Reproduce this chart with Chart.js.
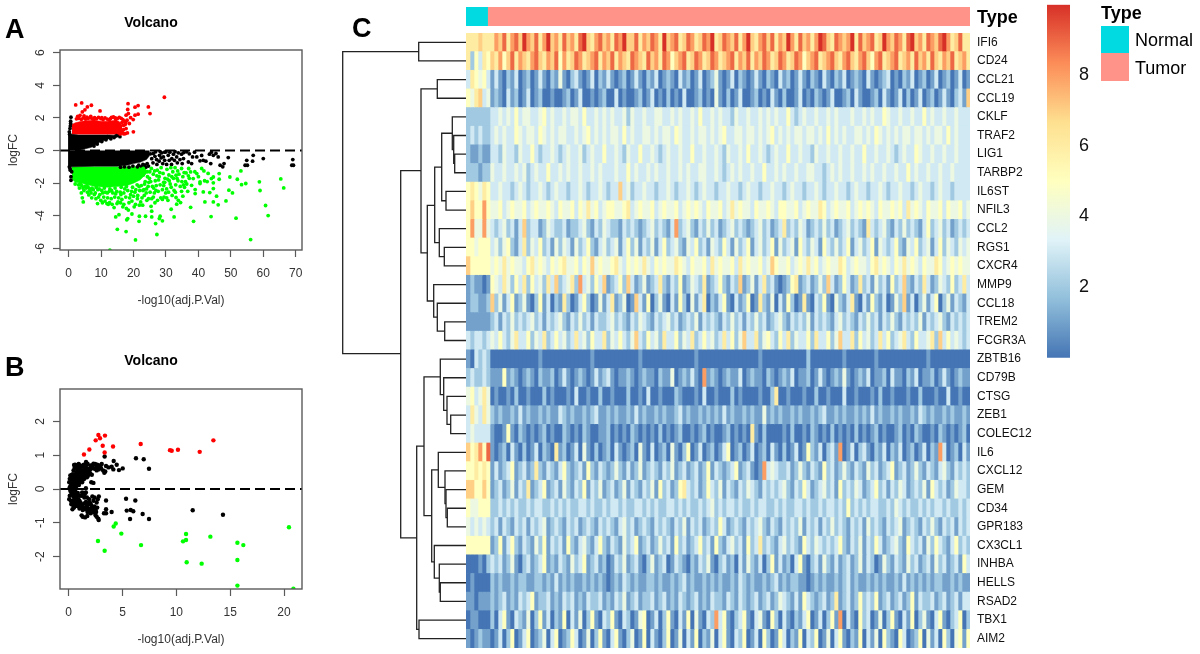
<!DOCTYPE html>
<html>
<head>
<meta charset="utf-8">
<title>Volcano and heatmap</title>
<script src="https://cdn.jsdelivr.net/npm/chart.js@4/dist/chart.umd.min.js"></script>
<style>
    html, body { margin: 0; padding: 0; background: #fff; }
    #page { position: relative; width: 1200px; height: 654px; overflow: hidden; font-family: "Liberation Sans", Arial, sans-serif; color: #000; }
    #page canvas { position: absolute; }
    .panel { position: absolute; font-size: 27px; font-weight: bold; line-height: 30px; }
    .note { position: absolute; font-size: 18px; line-height: 20px; white-space: nowrap; }
    .swatch { position: absolute; left: 1101px; width: 28px; height: 27.7px; }
</style>
</head>
<body>
<div id="page">
    <canvas id="volcano-a" style="left:0;top:0"></canvas>
    <canvas id="volcano-b" style="left:0;top:339px"></canvas>
    <canvas id="tree" style="left:340px;top:33px"></canvas>
    <canvas id="heatmap" style="left:466px;top:33px"></canvas>
    <canvas id="annotation" style="left:466px;top:7px"></canvas>
    <canvas id="colorbar" style="left:1047px;top:0"></canvas>
    <div class="panel" style="left:5px;top:14px">A</div>
    <div class="panel" style="left:5px;top:352px">B</div>
    <div class="panel" style="left:352px;top:13px">C</div>
    <div class="note" style="left:977px;top:7px;font-weight:bold">Type</div>
    <div class="note" style="left:1101px;top:3px;font-weight:bold">Type</div>
    <div class="swatch" style="top:25.7px;background:#00dae0"></div>
    <div class="swatch" style="top:53.4px;background:#ff9289"></div>
    <div class="note" style="left:1135px;top:30px">Normal</div>
    <div class="note" style="left:1135px;top:58px">Tumor</div>
</div>
<script>
Chart.defaults.font.family = '"Liberation Sans", Arial, sans-serif';
Chart.defaults.animation = false;

// Panel A
const aTicksX = [0, 10, 20, 30, 40, 50, 60, 70];
const aTicksY = [-6, -4, -2, 0, 2, 4, 6];

const aBlackEdgeX = [-0.2, 1, 3, 7, 9.7, 12.7, 14.8, 15.6];
const aBlackEdgeTop = [1.05, 1, 0.95, 0.95, 0.95, 0.95, 0.92, 0.86];
const aBlackEdgeBottom = [0, 0, 0, 0.2, 0.53, 0.74, 0.84, 0.86];
const aBlackLowX = [-0.2, 1, 8, 15, 18, 20, 22, 24, 25];
const aBlackLowBottom = [-1.05, -1, -0.96, -0.96, -0.9, -0.8, -0.72, -0.55, -0.3];

const aRedEdgeX = [1, 2, 4, 6, 8, 10, 12, 14, 15.5, 16.5];
const aRedEdgeTop = [1.6, 1.7, 1.8, 1.85, 1.85, 1.8, 1.8, 1.85, 1.8, 1.55];

const aGreenEdgeX = [1, 2, 5, 8, 12, 15, 18, 20, 22, 24];
const aGreenEdgeBottom = [-1.75, -1.95, -2.05, -2.2, -2.25, -2.2, -2.15, -2, -1.8, -1.4];

const aRedPoints = [
    [29.5, 3.27], [2.16, 2.8], [4, 2.92], [7, 2.78], [5.75, 2.68], [5, 2.5], [4.2, 2.37], [9.66, 2.43], [2.77, 2.1], [3.5, 2.16],
    [4.73, 2.13], [6.8, 2.1], [18.3, 2.88], [21.4, 2.76], [20.45, 2.66], [24.56, 2.68], [25.08, 2.27], [21.4, 2.23], [20.45, 2.17], [18.2, 2.52],
    [18.4, 2.27], [17.7, 2.17], [19.1, 2.02], [19.9, 1.9], [18.7, 1.66], [17.7, 1.35], [18.1, 1.08], [17.5, 1.04], [19.94, 1.15], [16.9, 1.55],
    [2.4, 1.95], [3.1, 1.98], [3.9, 1.92], [4.6, 2], [5.2, 1.93], [6, 1.98], [6.7, 2.02], [7.3, 1.94], [8, 2.02], [8.6, 1.95],
    [9.2, 2.04], [9.9, 1.96], [10.6, 1.9], [11.2, 2], [11.9, 1.93], [12.5, 1.88], [13.2, 2.04], [13.8, 2.06], [14.4, 2], [15, 1.96],
    [15.6, 2.04], [16.2, 1.98], [16.7, 1.9], [17.2, 1.8], [17.6, 1.7], [16.4, 1.72], [15.9, 1.4], [16.9, 1.28], [17.4, 1.6], [18, 1.86],
    [14.5, 1.9], [12.9, 1.96], [10.2, 2.02], [7.8, 1.9], [5.6, 2.05], [16.2, 1.2], [15.4, 1.1], [16.6, 1.1], [17, 1.02], [15.9, 1.02]
];

const aGreenPoints = [
    [65.4, -1.74], [66.3, -2.29], [53.1, -1.25], [49.7, -1.62], [52, -1.76], [54.6, -2.02], [53.3, -2.09], [58.8, -1.92], [59, -2.45], [49.4, -2.43],
    [50.5, -2.6], [48.5, -3.09], [60.7, -3.37], [61.5, -3.99], [51.6, -4.15], [56.1, -5.46], [43.9, -4.05], [38.5, -4.34], [20.6, -5.48], [27.2, -5.15],
    [17.7, -4.97], [15, -4.83], [12.7, -6.11], [26.8, -4.48], [28.9, -4.31], [28.2, -4.03], [27.96, -4.17], [32.5, -4.07], [25.6, -4.07], [23.7, -4.03],
    [21.8, -4.03], [21.7, -4.34], [19.5, -3.89], [18.2, -4.17], [17.9, -4.25], [14.5, -4.07], [15.5, -3.93], [25.6, -3.72], [25.4, -3.42], [31.6, -3.6],
    [33.3, -3.29], [33.8, -3.05], [34.5, -3.19], [33.1, -2.88], [35.2, -2.8], [37.6, -3.48], [39, -2.64], [42, -3.15], [44.6, -3.15], [46.1, -3.33],
    [45.6, -2.8], [43.5, -2.58], [44.6, -2.33], [41.5, -2.54], [40.5, -1.92], [39.5, -1.41], [41, -1.1], [41.7, -1.25], [44.6, -1.62], [44, -1.72],
    [46.4, -1.41], [46.4, -1.76], [44.6, -1.98], [40.5, -2.02], [39, -2.39], [37.9, -2.13], [38.4, -1.72], [37.6, -1.31], [36.2, -1.37], [34.8, -1.1],
    [33.1, -1.51], [3.9, -2.6], [4.2, -2.9], [4.5, -3.15], [8.9, -3.25], [10.4, -3.2], [11.8, -3.25], [12.6, -3.2], [13.4, -3.3], [14, -3.5],
    [15.2, -3.15], [16, -3.2], [17, -3.3], [17.8, -3.55], [18.6, -3.2], [19.5, -3.1], [20.6, -3.3], [21.8, -3.35], [22.8, -3.35], [24.6, -2.95],
    [25.6, -2.95], [27.4, -3.05], [28.4, -2.9], [29.4, -2.85], [30.2, -2.9], [5.4, -2.3], [5.8, -2.55], [6.5, -2.35], [6.9, -2.6], [7.6, -2.4],
    [8.2, -2.6], [9, -2.4], [9.6, -2.7], [10.2, -2.45], [10.8, -2.85], [11.3, -2.55], [12, -2.9], [12.5, -2.5], [13.1, -2.95], [13.6, -2.6],
    [14.2, -2.85], [14.8, -2.5], [15.4, -2.9], [15.9, -2.55], [16.4, -3], [17, -2.6], [17.6, -2.85], [18.2, -2.45], [18.8, -2.9], [19.4, -2.5],
    [20, -2.8], [20.7, -2.4], [21.3, -2.75], [21.9, -2.45], [22.6, -2.9], [23.2, -2.4], [23.9, -2.6], [24.5, -2.2], [25.1, -2.55], [25.8, -2.2],
    [26.4, -2.6], [27, -2.15], [27.6, -2.5], [28.2, -2.1], [28.9, -2.4], [29.6, -1.95], [30.2, -2.35], [31, -1.85], [31.6, -2.25], [32.3, -1.7],
    [33, -2.1], [33.7, -1.85], [34.4, -2.2], [35.2, -1.6], [36, -1.9], [22.4, -1.15], [23, -1.5], [23.6, -1.9], [24.2, -1.3], [24.9, -1.7],
    [25.5, -1.1], [26.1, -1.45], [26.7, -1.85], [27.3, -1.2], [27.9, -1.6], [28.5, -1.05], [29.1, -1.4], [29.7, -1.7], [30.3, -1.15], [30.9, -1.5],
    [31.5, -1.05], [32.1, -1.3], [32.8, -1.05], [34, -1.45], [35.6, -1.35], [2, -2.05], [3, -2.1], [4, -2.15], [5, -2.2], [6, -2.25],
    [7.2, -2.3], [8.5, -2.25], [9.4, -2.35], [11, -2.3], [12.7, -2.35], [14.3, -2.3], [16.2, -2.25], [17.8, -2.2], [19.7, -2.25], [21.1, -2.1],
    [22.4, -2.15], [23.4, -2.05], [24.7, -1.95], [26.9, -2.45], [29.9, -2.6], [30.8, -2.55], [32.5, -2.45], [36.7, -2.5], [37, -1.1], [41.9, -1.85],
    [3.3, -2.3], [4.7, -2.45], [6.2, -2.72], [7.1, -2.9], [8.4, -2.95], [9.9, -3.05], [11.2, -3.1], [12.2, -3.3], [14.9, -3.25], [16.7, -3.45],
    [18.4, -3.65], [20.2, -3.45], [21.2, -2.95], [22.2, -3.15], [23.3, -2.75], [24.1, -3.05], [26.1, -2.85], [26.6, -3.2], [28.9, -3], [30.6, -3.05],
    [31.9, -2.75], [32.9, -2.55], [34.8, -2.5], [35.7, -2.25], [36.4, -2.05], [37.2, -1.7], [34.9, -1.9], [33.6, -1.25], [31.3, -2.05], [29.3, -2.15],
    [27.7, -1.8], [26.2, -2.3], [25.3, -1.9], [24, -2.35], [22.9, -2.45], [21.7, -2.2], [20.4, -2.55], [19.1, -2.7], [17.3, -2.35], [16.1, -2.7],
    [14.5, -2.65], [13.2, -2.45], [11.9, -2.6], [10.5, -2.6], [9.2, -2.85], [7.9, -2.7], [6.6, -2.45], [5.6, -2.15], [4.4, -2.3], [3.6, -2.05],
    [23, -1.1], [25, -1.3], [28.1, -1.35], [29.3, -1.95], [30.5, -1.75], [31.8, -1.6], [33.4, -1.7], [24.3, -1.6], [26.5, -1.25], [27.2, -1.55],
    [35.4, -2.1], [36.9, -1.55], [38.9, -1.3], [40, -1.6], [42.7, -1.9], [43, -1.4]
];

const aBlackPoints = [
    [0.7, 2.05], [0.6, 1.66], [0.4, 1.35], [0.2, 1.15], [0.6, 1.8], [0.5, 1.5], [0.7, -1.6], [0.7, -1.82], [0.92, -1.3], [0.4, -1.1],
    [0.3, 1], [0.2, -1], [0.5, -1.2], [26.1, -0.18], [27.1, -0.55], [28, -0.29], [28.7, -0.14], [29.2, -0.39], [30, -0.08], [30.7, -0.29],
    [31.8, -0.49], [32.3, -0.22], [33.3, -0.39], [33.8, -0.14], [34.8, -0.22], [35.4, -0.49], [36.4, -0.08], [36.9, -0.7], [37.9, -0.8], [38.2, -0.39],
    [39.5, -0.39], [40.5, -0.63], [41.5, -0.6], [42.3, -0.65], [43.4, -0.22], [43.8, -0.8], [44.6, -0.29], [45.4, -0.18], [46.1, -0.39], [46.7, -0.9],
    [47.5, -1], [47.9, -0.8], [49.2, -0.43], [54.4, -0.9], [54.9, -0.6], [55.1, -0.9], [56.7, -0.65], [56.9, -0.29], [60, -0.49], [69.1, -0.55],
    [68.8, -0.9], [69.3, -0.9], [25.2, -0.2], [25.6, -0.5], [26, -0.75], [26.6, -0.35], [27.2, -0.85], [27.9, -0.65], [28.5, -0.45], [29, -0.8],
    [29.6, -0.6], [30.2, -0.85], [31, -0.6], [31.7, -0.85], [32.6, -0.6], [33.5, -0.75], [34.3, -0.55], [35, -0.8], [24.2, -0.8], [23.4, -0.9],
    [22.5, -0.98], [21.2, -1], [19.8, -0.95], [18.6, -1.02], [17.2, -1], [16, -1.02], [24.6, -0.95], [23.8, -1.02], [22.9, -0.85], [21.6, -0.9],
    [15.2, 0.95], [14.6, 0.9], [15.8, 0.85], [14, 0.8], [13, 0.72], [11.5, 0.66], [10.2, 0.55], [8.8, 0.4], [7.8, 0.28], [12, 0.85],
    [26.8, -0.08], [28.2, -0.06], [29.6, -0.1], [31.2, -0.1], [32.8, -0.07], [35.5, -0.12], [37.2, -0.2], [38.8, -0.1], [41, -0.3], [44, -0.1]
];
const aZeroX = [-2.68, 71.94];
const aZeroY = [0, 0];

// Panel B
const bTicksX = [0, 5, 10, 15, 20];
const bTicksY = [-2, -1, 0, 1, 2];
const bZeroX = [-0.806, 21.67];
const bZeroY = [0, 0];

const bRedPoints = [
    [2.76, 1.6], [3.37, 1.58], [2.91, 1.5], [2.51, 1.44], [3.16, 1.28], [1.92, 1.17], [1.42, 1.02], [3.34, 1.08], [4.12, 1.26], [6.69, 1.33],
    [9.41, 1.15], [9.57, 1.13], [10.15, 1.16], [12.17, 1.1], [13.44, 1.44]
];
const bGreenPoints = [
    [20.46, -1.13], [4.37, -1.02], [4.18, -1.11], [4.89, -1.32], [2.72, -1.54], [3.34, -1.83], [6.72, -1.66], [10.9, -1.33], [10.9, -1.51], [10.62, -1.55],
    [13.16, -1.41], [15.67, -1.59], [16.22, -1.66], [10.96, -2.17], [12.35, -2.21], [15.67, -2.1], [15.67, -2.86], [20.87, -2.95]
];
const bBlackPoints = [
    [3.34, 0.96], [6.25, 0.91], [6.97, 0.88], [7.46, 0.6], [4.18, 0.83], [4.46, 0.72], [5.02, 0.61], [4.67, 0.56], [3.99, 0.66], [4.15, 0.58],
    [3.31, 0.48], [3.47, 0.68], [3.07, 0.74], [2.6, 0.66], [2.45, 0.74], [1.61, 0.8], [1.7, 0.72], [0.5, 0.71], [0.93, 0.74], [1.2, 0.68],
    [5.33, -0.29], [6.19, -0.34], [3.47, -0.34], [5.39, -0.64], [5.76, -0.62], [6, -0.66], [6.87, -0.74], [7.46, -0.89], [5.7, -0.89], [11.52, -0.63],
    [14.33, -0.76], [3.47, -0.6], [3.28, -0.72], [3.47, -0.72], [2.79, -0.92], [2.6, -0.82], [2.38, -0.7], [3.99, -0.68], [1.2, -0.78], [1.52, -0.84],
    [1.73, -0.8], [0.1, 0.05], [0.15, -0.05], [0.2, 0.1], [0.25, -0.1], [0.2, 0], [0.3, 0.15], [0.3, -0.15], [0.35, 0.05], [0.35, -0.05],
    [0.4, 0.2], [0.4, -0.2], [0.45, 0.1], [0.45, -0.1], [0.5, 0.25], [0.5, -0.25], [0.55, 0.05], [0.5, 0.15], [0.6, 0.3], [0.6, 0.15],
    [0.6, -0.3], [0.65, 0.22], [0.65, -0.15], [0.7, 0.38], [0.7, 0.28], [0.7, -0.35], [0.75, 0.1], [0.8, 0.42], [0.8, 0.3], [0.8, -0.38],
    [0.85, 0.2], [0.9, 0.45], [0.9, 0.35], [0.9, -0.3], [1, 0.5], [1, 0.38], [1, 0.25], [1, -0.35], [1.1, 0.45], [1.1, 0.3],
    [1.1, -0.4], [1.2, 0.55], [1.2, 0.42], [1.2, 0.3], [1.2, -0.45], [1.3, 0.48], [1.3, 0.36], [1.3, -0.5], [1.4, 0.52], [1.4, 0.4],
    [1.4, -0.12], [1.5, 0.58], [1.5, 0.45], [1.5, -0.15], [1.5, -0.42], [1.6, 0.62], [1.6, 0.42], [1.6, -0.1], [1.6, -0.38], [1.7, 0.48],
    [1.7, 0.35], [1.7, -0.25], [1.8, 0.6], [1.8, 0.4], [1.8, -0.45], [1.9, 0.5], [1.9, -0.3], [2, 0.45], [2, -0.42], [2.1, 0.2],
    [2.1, -0.48], [2.2, 0.62], [2.2, -0.55], [2.3, 0.18], [2.4, 0.6], [2.5, -0.62], [2.6, 0.55], [2.7, -0.3], [2.7, 0.62], [2.8, -0.22],
    [2.8, 0.58], [0.3, -0.42], [0.35, -0.6], [0.45, -0.5], [0.3, 0.42], [0.4, 0.44], [0.55, -0.42], [0.65, -0.48], [0.75, -0.5], [0.9, -0.46],
    [0.8, 0.6], [0.7, 0.7], [0.9, 0.62], [1.1, 0.62], [1.3, 0.66], [1.6, 0.02], [2.5, 0.72], [2.2, 0.7], [3, 0.62], [2, -0.62],
    [2.3, -0.35], [2.6, -0.4], [1.3, -0.62], [1, -0.58], [1.6, -0.55], [1.85, -0.58], [2.05, -0.72], [2.75, -0.88], [2.5, -0.78], [1.3, -0.82],
    [0.05, 0.2], [0.1, -0.2], [0.05, -0.3], [0.1, 0.3], [0.15, 0.4], [0.2, -0.35], [0.25, 0.28], [0.25, -0.45], [0.3, 0.3], [0.4, 0.35],
    [0.5, 0.4], [0.5, 0.05], [0.6, 0.42], [0.6, -0.05], [0.65, 0.05], [0.7, 0.5], [0.75, 0.3], [0.8, 0.5], [0.9, 0.55], [0.95, 0.12],
    [1, 0.62], [1.05, 0.2], [1.15, 0.52], [1.25, 0.2], [1.35, 0.28], [1.45, 0.3], [1.55, 0.5], [1.65, 0.55], [1.75, 0.58], [1.85, 0.48],
    [1.95, 0.55], [2.05, 0.6], [2.15, 0.42], [0.6, -0.45], [0.5, -0.55], [0.4, -0.35], [0.7, -0.22], [0.85, -0.12], [0.85, -0.5], [1, -0.2],
    [1.1, -0.52], [1.2, -0.2], [1.25, -0.1], [1.35, -0.55], [1.45, -0.25], [1.55, -0.6], [1.7, -0.5], [1.75, -0.68], [1.9, -0.4], [2.15, -0.58],
    [2.3, -0.65], [2.4, -0.52], [2.55, -0.68], [2.65, -0.55], [2.2, -0.22], [2.4, -0.25], [0.45, 0.55], [0.55, 0.62], [0.6, 0.72], [0.9, 0.72],
    [1.05, 0.7], [1.4, 0.72], [1.75, 0.75], [2.05, 0.7], [2.3, 0.75], [2.65, 0.72], [2.9, 0.7], [3.2, 0.55], [3.4, 0.52], [3.7, 0.64]
];

// Panel C
const geneLabels = ['IFI6', 'CD24', 'CCL21', 'CCL19', 'CKLF', 'TRAF2', 'LIG1', 'TARBP2', 'IL6ST', 'NFIL3', 'CCL2', 'RGS1', 'CXCR4', 'MMP9', 'CCL18', 'TREM2', 'FCGR3A', 'ZBTB16', 'CD79B', 'CTSG', 'ZEB1', 'COLEC12', 'IL6', 'CXCL12', 'GEM', 'CD34', 'GPR183', 'CX3CL1', 'INHBA', 'HELLS', 'RSAD2', 'TBX1', 'AIM2'];
const normalColumns = [5.4];
const tumorColumns = [120.6];
const colorbarTop = [10];
const colorbarTicks = [2, 4, 6, 8];
const rampColors = ['#4575b4', '#91bfdb', '#e0f3f8', '#ffffbf', '#fee090', '#fc8d59', '#d73027'];

const IFI6 = [6,6,6,7,6,6, 6,8,7,9,6,8,9,7,10,8, 7,9,6,8,10,7,8,6,9,7, 8,6,9,10,7,6,8,9,7,8, 6,9,8,10,7,7,9,6,8,7, 9,8,6,10,7,8,9,6,7,9, 8,6,7,9,8,10,6,7,9,8, 7,9,6,8,10,7,6,8,9,7, 9,6,8,7,10,8,6,9,7,8, 6,8,10,9,7,6,9,8,7,8, 10,6,9,7,8,9,6,7,10,8, 7,9,8,6,9,10,7,8,6,9, 8,7,9,10,8,6,7,9,6,6];
const CD24 = [6,2,5,3,6,5, 7,6,8,5,7,9,6,8,7,6, 8,9,7,6,8,7,9,5,8,6, 7,9,8,6,7,8,9,6,8,7, 9,6,8,7,6,9,8,7,6,9, 7,8,6,9,8,5,7,8,9,6, 7,9,8,6,7,9,8,6,7,8, 9,6,8,7,9,6,8,7,9,8, 6,7,9,8,6,7,9,8,5,7, 8,9,6,7,8,9,7,6,8,9, 7,6,8,9,7,5,8,9,6,7, 8,9,6,7,8,6,9,7,8,6, 9,7,6,8,7,9,6,7,8,6];
const CCL21 = [3,6,5,4,5,3, 1,3,1,0,2,1,3,0,1,2, 0,1,3,1,0,2,1,4,1,0, 2,3,1,0,1,3,0,2,1,3, 1,0,1,2,0,1,3,1,0,2, 1,3,0,1,2,1,0,3,1,2, 0,1,3,0,1,2,4,1,0,1, 3,0,2,1,0,1,3,1,0,2, 1,0,3,1,2,0,1,3,1,0, 2,1,0,3,1,0,2,1,3,0, 1,2,1,0,3,1,0,1,2,3, 0,1,0,2,1,3,0,1,2,0, 1,3,0,1,2,0,1,3,0,1];
const CCL19 = [5,4,6,7,3,4, 1,2,1,0,3,1,2,0,1,3, 0,1,2,0,0,1,0,0,1,2, 0,1,3,0,0,1,0,1,2,0, 0,3,0,1,0,0,1,2,0,1, 3,0,1,0,2,0,1,0,3,0, 0,1,2,0,1,0,4,1,0,2, 0,1,3,0,0,1,2,0,1,0, 3,1,0,2,0,0,1,3,0,1, 0,2,1,0,1,3,0,0,1,2, 0,3,1,0,0,1,2,0,3,1, 0,1,3,0,2,0,1,3,0,1, 2,0,1,3,1,0,2,3,1,7];
const CKLF = [2,2,2,2,2,2, 3,3,4,3,4,3,5,3,4,4, 3,3,4,5,3,4,3,3,4,3, 4,4,3,5,3,3,4,3,4,3, 4,3,3,4,2,4,3,3,4,3, 3,4,4,3,3,4,3,4,3,3, 4,3,5,3,3,4,3,4,3,3, 2,4,3,3,4,3,3,4,3,4, 3,4,3,3,5,3,2,3,4,3, 3,4,3,3,4,3,4,3,3,3, 4,3,3,4,3,4,3,3,5,4, 3,3,4,3,3,4,3,3,5,3, 4,3,3,4,3,3,4,3,3,3];
const TRAF2 = [2,3,2,3,2,2, 3,4,3,4,3,3,5,4,3,4, 4,3,5,4,3,4,3,4,4,3, 3,4,3,4,5,3,4,3,4,3, 4,4,3,5,3,4,3,3,4,4, 3,4,3,4,4,3,5,4,3,3, 4,3,4,4,3,4,3,4,5,3, 3,4,4,3,4,4,3,4,3,4, 5,3,4,3,4,3,4,4,3,4, 4,3,4,3,5,3,4,3,4,3, 3,4,4,3,4,3,5,4,3,4, 3,4,3,4,4,3,4,4,3,4, 3,4,4,3,5,3,4,3,3,3];
const LIG1 = [2,1,1,2,1,1, 3,3,2,4,3,3,2,4,3,3, 5,3,2,3,3,4,3,2,3,4, 3,3,4,2,3,4,3,3,5,3, 3,4,3,2,4,3,3,5,3,3, 4,3,2,3,4,3,3,4,3,3, 5,3,3,4,3,3,4,3,2,4, 3,3,4,3,5,3,3,4,3,2, 3,4,3,3,5,3,3,4,3,3, 2,4,3,3,4,3,3,4,3,3, 4,3,3,5,3,3,4,3,3,4, 3,2,3,4,3,3,5,4,3,3, 4,3,3,4,3,3,4,3,3,3];
const TARBP2 = [2,2,2,1,2,2, 4,3,3,4,3,3,4,3,4,2, 3,4,3,3,5,3,3,4,3,4, 3,3,4,3,3,4,3,4,3,3, 3,4,3,3,5,3,4,3,3,4, 3,4,3,3,4,3,3,4,3,4, 3,3,4,4,3,3,4,3,2,3, 4,3,4,3,3,4,3,3,5,3, 3,4,3,4,3,3,4,3,3,4, 4,3,3,2,3,4,3,4,3,3, 4,3,3,4,3,4,3,3,4,3, 3,4,3,3,5,3,4,3,3,4, 3,3,4,3,3,4,3,3,3,3];
const IL6ST = [5,6,5,4,6,5, 3,3,4,3,3,2,3,4,3,2, 3,3,4,3,2,3,4,3,3,2, 3,3,4,3,2,3,3,4,3,2, 3,3,7,3,4,2,3,3,4,3, 3,2,3,3,4,3,2,3,3,4, 3,2,3,4,3,3,2,3,3,4, 3,3,2,3,4,3,3,2,3,3, 4,3,3,2,3,4,3,3,2,3, 3,4,3,2,3,3,4,3,3,2, 3,4,3,3,2,3,3,4,3,2, 3,3,4,3,3,2,3,4,3,3, 2,3,4,3,3,2,3,3,3,3];
const NFIL3 = [5,7,5,5,8,5, 4,4,5,3,4,5,4,4,5,3, 4,5,4,4,5,4,3,5,4,4, 5,3,5,4,6,4,5,3,4,5, 5,4,4,5,6,3,4,5,4,4, 5,3,4,5,4,4,5,3,4,5, 4,5,4,3,5,4,4,5,3,4, 6,4,5,4,4,3,5,4,4,5, 4,3,5,5,4,4,5,3,4,5, 4,4,6,5,3,4,5,4,4,5, 3,4,5,4,5,4,3,5,4,4, 5,4,5,3,6,4,5,4,3,5, 4,4,5,3,5,4,4,5,3,4];
const CCL2 = [5,8,4,4,8,4, 3,2,3,4,2,3,1,3,7,2, 3,3,1,2,4,3,2,2,3,1, 2,2,3,4,2,1,3,2,4,3, 2,2,1,3,2,3,2,1,2,3, 4,2,3,2,1,3,8,2,3,4, 2,1,3,2,4,2,3,1,2,3, 4,2,3,2,1,2,3,4,2,3, 1,2,3,6,2,3,2,4,3,1, 2,3,2,4,2,3,1,2,3,4, 2,3,2,1,6,3,2,3,4,2, 1,3,2,4,2,3,2,1,3,5, 2,3,4,2,3,1,2,3,2,3];
const RGS1 = [5,5,4,5,5,5, 3,4,2,4,5,2,1,3,6,2, 4,3,5,2,3,1,4,2,4,3, 1,4,2,3,5,2,1,3,4,2, 3,4,1,3,5,2,4,1,3,2, 4,1,3,5,2,3,4,2,1,4, 3,5,2,3,1,4,3,2,5,3, 1,4,2,3,5,1,3,4,2,3, 5,1,4,2,3,4,1,5,3,2, 4,3,1,5,3,2,4,2,3,5, 1,3,4,2,3,5,1,4,3,2, 3,5,2,1,4,3,5,2,3,4, 1,3,5,2,4,3,2,4,3,4];
const CXCR4 = [7,5,5,5,5,5, 4,5,4,6,4,5,4,4,3,5, 6,4,5,4,3,5,4,5,6,4, 4,5,3,5,4,7,4,5,4,4, 5,6,4,3,5,4,5,4,6,4, 3,5,4,5,4,4,6,5,4,3, 5,4,4,5,3,6,4,5,4,4, 5,3,6,4,5,4,4,5,3,4, 7,5,4,4,5,3,4,5,4,6, 4,5,3,4,5,4,4,6,5,3, 4,5,4,4,3,5,6,4,5,4, 3,5,4,6,4,5,4,3,5,4, 4,6,5,3,4,5,4,5,4,4];
const MMP9 = [1,2,1,1,0,1, 5,4,3,6,4,2,5,3,6,2, 5,3,4,2,6,3,7,2,3,4, 6,2,8,3,4,2,5,3,7,1, 2,3,5,2,7,3,1,2,4,1, 2,3,6,2,1,3,2,5,1,2, 4,3,2,6,1,2,3,5,2,1, 3,2,7,1,2,4,1,3,6,2, 3,1,0,1,2,5,6,1,2,3, 1,2,4,2,7,3,1,2,5,3, 1,2,6,2,3,1,4,2,3,1, 5,2,3,7,2,1,3,2,6,3, 1,2,4,3,2,5,2,3,6,3];
const CCL18 = [1,2,2,1,1,2, 7,2,4,1,3,5,1,2,4,1, 0,2,5,1,3,0,2,1,6,2, 0,1,3,5,2,0,1,4,1,3, 6,1,2,4,0,1,7,3,1,5, 0,2,4,1,0,3,1,5,2,0, 4,1,3,6,0,2,1,3,5,1, 0,3,1,2,5,0,1,6,2,1, 4,0,3,1,5,2,0,1,6,1, 0,3,2,5,1,0,4,2,1,3, 6,1,0,3,1,5,2,1,3,0, 1,4,2,7,1,3,0,2,4,1, 3,5,0,2,4,1,3,2,1,3];
const TREM2 = [1,1,1,1,1,1, 2,3,1,3,2,4,2,3,2,3, 4,2,3,1,3,2,3,4,2,1, 3,2,4,2,3,1,3,2,2,3, 4,2,3,2,1,3,2,4,3,2, 1,3,2,3,4,2,3,1,2,3, 2,4,1,3,2,3,2,1,3,2, 4,2,3,1,3,2,4,2,3,1, 2,3,4,2,1,3,2,3,2,4, 1,3,2,3,2,1,3,4,2,3, 2,1,3,2,4,2,3,1,3,2, 4,2,1,3,2,3,2,4,1,3, 2,3,4,2,1,3,2,3,2,3];
const FCGR3A = [3,2,3,3,2,3, 4,3,5,3,2,4,6,3,3,5, 2,4,3,6,2,3,5,3,4,2, 3,6,3,4,2,5,3,3,6,2, 4,3,5,3,2,4,7,3,2,5, 3,4,2,6,3,3,5,2,4,3, 6,2,3,5,3,4,2,3,6,3, 5,2,4,7,3,3,6,2,4,5, 3,2,5,3,6,2,4,3,3,5, 2,6,3,3,5,2,4,7,3,3, 6,2,5,3,4,2,3,6,3,5, 2,3,4,6,3,2,5,3,3,4, 6,2,7,3,5,3,4,3,2,3];
const ZBTB16 = [1,0,3,2,3,2, 0,0,0,0,0,0,0,0,0,0, 0,0,1,0,0,0,0,0,0,0, 0,0,0,0,0,1,0,0,0,0, 0,0,0,0,0,0,0,1,0,0, 0,0,0,0,0,0,0,0,0,0, 0,1,0,0,0,0,0,0,0,0, 0,0,0,0,0,0,0,1,0,0, 0,0,0,0,0,0,0,0,0,2, 0,0,0,0,0,0,0,0,1,0, 0,0,0,0,0,0,1,0,0,0, 0,0,0,0,0,0,0,0,0,1, 0,0,0,0,0,0,0,0,0,0];
const CD79B = [2,3,2,2,3,2, 1,1,1,5,1,2,1,0,1,2, 1,0,2,1,1,2,0,1,3,1, 0,1,2,1,0,1,3,1,2,3, 1,0,1,1,2,1,0,1,2,1, 1,0,2,1,1,4,0,1,2,1, 3,1,0,8,1,2,1,0,1,2, 1,1,3,0,1,2,1,1,0,2, 1,0,1,2,1,3,0,1,1,2, 0,1,3,1,0,1,2,1,4,1, 0,1,2,1,3,0,1,1,2,0, 3,1,1,0,2,1,3,0,1,1, 2,0,1,3,1,0,1,2,1,1];
const CTSG = [4,5,3,4,6,4, 0,1,0,0,1,0,2,0,0,1, 0,0,0,2,0,1,0,0,0,1, 0,3,0,0,1,0,0,2,0,0, 1,0,0,0,2,0,0,1,0,3, 0,0,1,0,0,0,2,1,0,0, 0,1,0,3,0,0,1,0,0,0, 2,0,1,0,0,0,0,1,0,0, 2,6,0,0,1,0,0,0,1,0, 0,2,0,0,1,0,0,0,3,0, 0,1,0,0,0,1,0,2,0,0, 1,0,0,0,1,0,0,2,0,0, 0,1,0,0,3,0,0,1,0,0];
const ZEB1 = [3,6,4,3,6,4, 2,1,2,1,1,2,1,3,1,2, 1,1,2,1,2,1,1,3,2,1, 2,1,1,2,1,2,3,1,1,2, 1,2,1,1,2,1,3,1,2,1, 1,2,1,2,1,1,2,3,1,2, 1,1,2,1,2,1,2,1,3,1, 2,1,1,2,1,2,1,1,4,1, 2,1,2,1,1,2,1,2,1,1, 2,1,2,3,1,1,2,1,2,1, 1,2,1,2,1,3,1,2,1,1, 2,1,2,1,1,2,1,3,2,1, 2,1,1,2,1,2,1,1,2,1];
const COLEC12 = [3,4,3,3,3,3, 1,0,0,1,5,1,0,2,1,0, 1,0,1,2,0,1,0,0,2,1, 0,1,0,2,1,0,0,1,1,2, 0,1,0,1,0,2,1,0,1,0, 1,0,2,0,1,0,1,2,0,0, 1,0,1,2,0,1,0,0,1,2, 0,1,0,1,0,6,1,0,2,0, 0,0,0,1,0,2,0,0,1,0, 2,1,0,1,0,2,0,1,0,1, 0,2,0,1,0,1,2,0,1,0, 0,1,2,0,1,0,2,1,0,0, 1,0,2,1,0,1,0,1,2,0];
const IL6 = [7,5,6,8,5,9, 1,0,1,2,0,3,1,0,2,0, 1,3,0,2,1,0,6,1,2,0, 1,3,0,4,1,0,2,0,1,2, 0,3,1,0,1,2,0,4,1,0, 3,0,1,2,0,4,1,0,2,5, 0,1,3,0,1,2,0,1,3,5, 0,1,2,0,1,3,0,1,2,0, 3,1,0,2,0,1,3,0,1,5, 2,1,3,0,2,3,1,8,0,1, 3,0,2,3,1,0,2,1,3,0, 2,1,3,0,1,2,0,1,3,0, 2,1,8,3,0,1,2,0,3,1];
const CXCL12 = [5,5,6,5,6,5, 1,3,1,2,3,5,1,2,3,1, 2,6,2,1,3,2,1,3,5,2, 1,2,3,1,5,2,1,3,2,1, 2,4,2,1,3,1,2,4,1,2, 3,2,1,3,2,4,1,2,3,1, 2,3,1,2,5,1,3,2,1,2, 3,5,1,2,3,1,0,1,8,3, 4,3,2,2,3,1,2,4,2,1, 3,2,1,5,2,3,1,2,4,2, 1,3,2,1,4,2,3,1,2,3, 5,1,2,3,1,2,4,2,1,3, 2,1,3,4,2,1,3,2,3,2];
const GEM = [7,7,5,5,7,5, 1,2,3,1,2,4,1,3,2,6, 1,2,3,5,1,2,3,1,4,2, 1,3,2,5,1,3,2,4,1,2, 3,1,2,4,1,3,2,1,3,2, 4,1,5,2,3,1,2,5,6,3, 2,3,1,2,5,3,2,4,1,3, 2,1,3,2,4,3,2,1,3,2, 3,2,3,4,2,1,3,2,5,3, 1,2,3,4,2,3,1,5,2,3, 2,4,3,1,2,3,5,2,3,1, 3,2,4,3,1,2,3,2,4,1, 5,3,2,3,1,2,4,3,3,2];
const CD34 = [5,4,4,5,5,5, 2,2,3,2,3,2,3,2,2,3, 2,3,3,2,2,3,2,3,2,3, 2,2,3,3,2,3,2,2,3,2, 3,3,2,3,2,2,3,3,2,3, 2,3,2,2,3,3,2,3,2,3, 2,2,3,2,3,4,2,3,2,3, 3,2,3,2,2,3,2,3,3,2, 2,3,2,3,2,2,3,3,2,3, 2,2,3,2,3,3,2,3,2,5, 2,3,2,3,2,3,3,2,2,3, 2,4,3,2,3,2,2,3,2,3, 2,3,3,2,3,2,2,3,2,3];
const GPR183 = [4,3,4,3,4,3, 2,3,1,3,2,1,3,2,3,1, 3,2,3,4,1,2,3,2,1,3, 2,3,1,2,3,2,1,3,2,3, 2,1,3,4,2,3,1,2,3,2, 1,3,2,3,2,1,3,2,4,1, 3,2,3,1,2,3,2,5,3,1, 2,3,2,1,3,2,3,4,2,1, 3,2,1,3,2,3,2,4,1,3, 2,3,1,3,2,4,2,3,2,1, 3,2,3,1,4,2,3,2,1,3, 2,3,4,1,2,3,2,1,3,2, 4,2,1,3,2,3,1,3,2,3];
const CX3CL1 = [5,5,5,5,5,5, 1,2,5,1,3,5,2,1,3,2, 1,4,2,5,1,3,2,3,1,5, 2,1,3,4,2,1,3,5,2,1, 3,2,1,4,2,3,5,1,2,3, 1,2,4,2,3,1,5,2,3,1, 2,3,5,2,3,1,5,2,1,3, 4,2,3,1,5,2,3,6,2,3, 2,1,3,4,2,3,2,1,5,3, 2,4,3,2,3,2,3,5,2,1, 3,2,4,1,3,2,5,3,1,2, 3,4,2,1,5,3,2,3,1,4, 2,5,3,2,1,3,5,2,3,2];
const INHBA = [0,0,0,1,0,2, 3,2,3,1,2,4,1,0,2,3, 1,2,3,5,1,2,1,3,2,1, 4,2,3,5,1,2,3,1,2,0, 1,3,2,4,1,2,3,1,0,2, 4,1,2,3,0,1,3,2,1,0, 2,1,3,2,4,1,0,2,3,1, 2,0,3,1,4,2,1,3,0,2, 5,1,3,1,2,0,3,5,1,0, 2,3,1,4,2,1,3,1,2,3, 1,2,4,1,3,2,0,1,4,2, 1,3,2,1,4,2,3,1,2,3, 1,4,2,3,1,2,3,1,5,3];
const HELLS = [0,1,0,0,0,0, 2,1,2,1,1,2,1,2,2,1, 1,2,2,1,2,1,3,1,2,1, 2,1,1,2,1,2,1,2,1,0, 1,2,1,3,2,1,2,1,1,2, 2,1,2,1,1,2,1,2,3,1, 2,1,1,2,1,2,1,2,1,1, 2,1,3,2,1,2,1,1,2,1, 2,3,1,2,1,2,2,1,1,0, 1,2,1,2,1,1,2,1,2,3, 1,2,1,1,2,1,2,1,2,1, 1,2,1,3,1,2,1,2,1,2, 1,2,2,1,1,2,1,2,1,1];
const RSAD2 = [1,1,0,1,1,1, 2,1,2,3,1,2,1,3,2,3, 5,1,2,2,3,1,2,1,3,2, 3,1,2,1,3,2,2,3,1,2, 1,3,2,4,1,2,3,1,2,2, 3,1,2,3,1,2,1,3,2,1, 2,3,1,2,1,3,2,2,1,3, 2,1,3,2,1,2,3,1,2,3, 1,2,4,3,2,1,3,1,5,3, 2,1,2,3,1,2,6,1,2,3, 1,2,5,2,3,2,5,1,2,3, 1,2,3,1,2,5,1,3,2,2, 3,1,2,3,1,2,3,1,3,3];
const TBX1 = [0,1,1,0,0,0, 2,0,3,5,1,0,3,2,1,4, 0,2,5,1,3,0,2,1,5,0, 3,1,4,0,2,5,1,0,3,2, 5,1,0,3,2,0,1,4,5,0, 1,3,0,2,5,1,0,3,1,5, 0,4,1,0,3,2,8,3,5,1, 0,2,3,5,1,0,3,4,1,0, 5,2,0,3,1,0,2,1,3,5, 0,1,3,0,2,5,1,8,0,3, 1,0,5,2,3,0,1,4,0,2, 5,1,0,3,1,5,0,2,4,1, 0,3,5,1,0,2,3,5,0,2];
const AIM2 = [1,0,1,2,1,1, 0,1,3,0,2,5,0,1,3,5, 0,1,2,4,0,3,5,0,1,2, 5,3,0,1,4,0,2,5,1,0, 3,5,1,0,2,4,0,1,5,0, 3,1,0,2,5,0,1,4,0,3, 1,5,0,2,1,4,0,3,5,1, 0,3,2,5,0,1,3,0,5,2, 0,1,5,3,0,2,1,5,0,3, 2,5,0,1,4,0,3,5,1,0, 2,1,5,0,3,1,4,0,5,2, 1,0,5,3,0,1,2,5,0,4, 1,3,0,5,2,0,4,5,1,5];
const heatRows = [IFI6, CD24, CCL21, CCL19, CKLF, TRAF2, LIG1, TARBP2, IL6ST, NFIL3, CCL2, RGS1, CXCR4, MMP9, CCL18, TREM2, FCGR3A, ZBTB16, CD79B, CTSG, ZEB1, COLEC12, IL6, CXCL12, GEM, CD34, GPR183, CX3CL1, INHBA, HELLS, RSAD2, TBX1, AIM2];

// [height, upper y, upper child height, lower y, lower child height]
const treeNodes = [
    [123.3, 1, 47.3, 17.2, 65.3], [47.3, 0.5, 0, 1.5, 0], [65.3, 7.39, 45, 27.09, 49.3], [45, 3, 28.7, 11.8, 38.7],
    [28.7, 2.5, 0, 3.5, 0], [38.7, 9.25, 31.3, 14.38, 32.3], [31.3, 7.2, 24.3, 11.25, 26.7], [24.3, 5.38, 13.7, 9, 20],
    [13.7, 4.5, 0, 6.25, 12.3], [12.3, 5.5, 0, 7, 11.3], [11.3, 6.5, 0, 7.5, 0], [20, 8.5, 0, 9.5, 0],
    [26.7, 10.5, 0, 12, 21.7], [21.7, 11.5, 0, 12.5, 0], [32.3, 13.5, 0, 15.25, 28.7], [28.7, 14.5, 0, 16, 21.3],
    [21.3, 15.5, 0, 16.5, 0], [49.3, 22.17, 42, 32, 47], [47, 31.5, 0, 32.5, 0], [42, 18.45, 25.7, 25.9, 34.3],
    [25.7, 17.5, 0, 19.4, 22.3], [22.3, 18.5, 0, 20.25, 19], [19, 19.5, 0, 21, 15.3], [15.3, 20.5, 0, 21.5, 0],
    [34.3, 23.44, 27.7, 28.38, 31.7], [27.7, 22.5, 0, 24.38, 21], [21, 23.5, 0, 25.25, 20], [20, 24.5, 0, 26, 18.7],
    [18.7, 25.5, 0, 26.5, 0], [31.7, 27.5, 0, 29.25, 26.7], [26.7, 28.5, 0, 30, 25.7], [25.7, 29.5, 0, 30.5, 0]
];

function toPoints(pairs) {
    return pairs.map(p => ({ x: p[0], y: p[1] }));
}

function zipXY(xs, ys) {
    return xs.map((x, i) => ({ x: x, y: ys[i] }));
}

function hexToRgb(hex) {
    return [1, 3, 5].map(i => parseInt(hex.slice(i, i + 2), 16));
}

function heatColor(value) {
    const pos = Math.min(value, 10) / 10 * (rampColors.length - 1);
    const low = Math.floor(pos);
    const high = Math.min(low + 1, rampColors.length - 1);
    const a = hexToRgb(rampColors[low]);
    const b = hexToRgb(rampColors[high]);
    const t = pos - low;
    return `rgb(${a.map((c, i) => Math.round(c + (b[i] - c) * t)).join(',')})`;
}

// box around the plot, as base R draws it
const boxPlugin = {
    id: 'plotBox',
    afterDatasetsDraw(chart) {
        const { ctx, chartArea: a } = chart;
        ctx.save();
        ctx.strokeStyle = '#5a5a5a';
        ctx.lineWidth = 1.4;
        ctx.strokeRect(a.left, a.top, a.right - a.left, a.bottom - a.top);
        ctx.restore();
    }
};

function sizeCanvas(id, width, height) {
    const canvas = document.getElementById(id);
    canvas.width = width;
    canvas.height = height;
    canvas.style.width = width + 'px';
    canvas.style.height = height + 'px';
    return canvas;
}

function volcanoOptions(xRange, yRange, xTicks, yTicks, height, topPad) {
    return {
        responsive: false,
        layout: { autoPadding: false, padding: { right: 60 } },
        plugins: {
            legend: { display: false },
            tooltip: { enabled: false },
            title: {
                display: true,
                text: 'Volcano',
                color: '#000',
                font: { size: 14, weight: 'bold' },
                padding: { top: topPad, bottom: 50 - topPad - 16.8 }
            }
        },
        scales: {
            x: {
                type: 'linear',
                min: xRange[0],
                max: xRange[1],
                afterBuildTicks: s => { s.ticks = xTicks.map(v => ({ value: v })); },
                afterFit: s => { s.height = height; },
                grid: { drawOnChartArea: false, tickLength: 7, tickColor: '#5a5a5a', tickWidth: 1.2 },
                border: { display: false },
                ticks: { color: '#333', font: { size: 12 }, padding: 9, maxRotation: 0, autoSkip: false },
                title: { display: true, text: '-log10(adj.P.Val)', color: '#333', font: { size: 12 }, padding: 0 }
            },
            y: {
                type: 'linear',
                min: yRange[0],
                max: yRange[1],
                afterBuildTicks: s => { s.ticks = yTicks.map(v => ({ value: v })); },
                afterFit: s => { s.width = 60; },
                grid: { drawOnChartArea: false, tickLength: 7, tickColor: '#5a5a5a', tickWidth: 1.2 },
                border: { display: false },
                ticks: { color: '#333', font: { size: 12 }, padding: 7, minRotation: 90, maxRotation: 90, crossAlign: 'center', autoSkip: false },
                title: { display: true, text: 'logFC', color: '#333', font: { size: 12 }, padding: { top: 6, bottom: 0 } }
            }
        }
    };
}

function dots(pairs, color, radius) {
    return { data: toPoints(pairs), backgroundColor: color, borderWidth: 0, pointRadius: radius, order: 2 };
}

function zeroLine(xs, ys) {
    return { data: zipXY(xs, ys), showLine: true, borderColor: '#000', borderWidth: 2, borderDash: [10, 5], pointRadius: 0, order: 0 };
}

function band(points, fill, color) {
    return { data: points, showLine: true, fill: fill, backgroundColor: color, borderColor: color, borderWidth: 0.5, pointRadius: 0, order: 5 };
}

new Chart(sizeCanvas('volcano-a', 362, 308), {
    type: 'scatter',
    data: {
        datasets: [
            zeroLine(aZeroX, aZeroY),
            dots(aRedPoints, '#ff0000', 1.9),
            dots(aGreenPoints, '#00ff00', 1.9),
            dots(aBlackPoints, '#000', 1.9),
            band(zipXY(aBlackEdgeX, aBlackEdgeTop), '+1', '#000'),
            band(zipXY(aBlackEdgeX, aBlackEdgeBottom), false, '#000'),
            band(zipXY(aBlackLowX, aBlackLowBottom), { value: 0 }, '#000'),
            band(zipXY(aRedEdgeX, aRedEdgeTop), { value: 0.98 }, '#ff0000'),
            band(zipXY(aGreenEdgeX, aGreenEdgeBottom), { value: -0.98 }, '#00ff00')
        ]
    },
    options: volcanoOptions([-2.68, 71.94], [-6.1, 6.17], aTicksX, aTicksY, 58, 15),
    plugins: [boxPlugin]
});

new Chart(sizeCanvas('volcano-b', 362, 308), {
    type: 'scatter',
    data: {
        datasets: [
            zeroLine(bZeroX, bZeroY),
            dots(bRedPoints, '#ff0000', 2.2),
            dots(bGreenPoints, '#00ff00', 2.2),
            dots(bBlackPoints, '#000', 2.2)
        ]
    },
    options: volcanoOptions([-0.806, 21.67], [-2.96, 2.96], bTicksX, bTicksY, 58, 14),
    plugins: [boxPlugin]
});

new Chart(sizeCanvas('tree', 126, 615), {
    type: 'scatter',
    data: {
        datasets: treeNodes.map(n => ({
            data: [{ x: n[2], y: n[1] }, { x: n[0], y: n[1] }, { x: n[0], y: n[3] }, { x: n[4], y: n[3] }],
            showLine: true,
            borderColor: '#222',
            borderWidth: 1.3,
            pointRadius: 0,
            clip: false
        }))
    },
    options: {
        responsive: false,
        layout: { autoPadding: false },
        plugins: { legend: { display: false }, tooltip: { enabled: false } },
        scales: {
            x: { display: false, type: 'linear', min: 0, max: 126, reverse: true },
            y: { display: false, type: 'linear', min: 0, max: 33, reverse: true }
        }
    }
});

new Chart(sizeCanvas('heatmap', 574, 615), {
    type: 'bar',
    data: {
        labels: geneLabels,
        datasets: heatRows[0].map((_, column) => ({
            data: geneLabels.map(() => 1),
            backgroundColor: ctx => heatColor(heatRows[ctx.dataIndex][column]),
            borderWidth: 0,
            barPercentage: 1,
            categoryPercentage: 1
        }))
    },
    options: {
        indexAxis: 'y',
        responsive: false,
        layout: { autoPadding: false },
        plugins: { legend: { display: false }, tooltip: { enabled: false } },
        scales: {
            x: { display: false, stacked: true, min: 0, max: heatRows[0].length },
            y: {
                stacked: true,
                position: 'right',
                afterFit: s => { s.width = 70; s.paddingTop = 0; s.paddingBottom = 0; },
                grid: { display: false, tickLength: 0 },
                border: { display: false },
                ticks: { color: '#111', font: { size: 12 }, padding: 7, autoSkip: false }
            }
        }
    }
});

new Chart(sizeCanvas('annotation', 504, 19), {
    type: 'bar',
    data: {
        labels: ['Type'],
        datasets: [
            { data: normalColumns, backgroundColor: '#00dae0', borderWidth: 0, barPercentage: 1, categoryPercentage: 1 },
            { data: tumorColumns, backgroundColor: '#ff9289', borderWidth: 0, barPercentage: 1, categoryPercentage: 1 }
        ]
    },
    options: {
        indexAxis: 'y',
        responsive: false,
        layout: { autoPadding: false },
        plugins: { legend: { display: false }, tooltip: { enabled: false } },
        scales: {
            x: { display: false, stacked: true, min: 0, max: 126 },
            y: { display: false, stacked: true }
        }
    }
});

new Chart(sizeCanvas('colorbar', 60, 362), {
    type: 'bar',
    data: {
        labels: [''],
        datasets: [{
            data: colorbarTop,
            borderWidth: 0,
            barPercentage: 1,
            categoryPercentage: 1,
            backgroundColor: ctx => {
                const { chart } = ctx;
                if (!chart.chartArea) return rampColors[0];
                const scale = chart.scales.y;
                const gradient = chart.ctx.createLinearGradient(0, scale.getPixelForValue(0), 0, scale.getPixelForValue(10));
                rampColors.forEach((c, i) => gradient.addColorStop(i / (rampColors.length - 1), c));
                return gradient;
            }
        }]
    },
    options: {
        responsive: false,
        layout: { autoPadding: false, padding: { top: 4.7, bottom: 4.3 } },
        plugins: { legend: { display: false }, tooltip: { enabled: false } },
        scales: {
            x: { display: false },
            y: {
                position: 'right',
                min: 0,
                max: 10,
                afterBuildTicks: s => { s.ticks = colorbarTicks.map(v => ({ value: v })); },
                afterFit: s => { s.width = 37; s.paddingTop = 0; s.paddingBottom = 0; },
                grid: { display: false, tickLength: 0 },
                border: { display: false },
                ticks: { color: '#111', font: { size: 18 }, padding: 9 }
            }
        }
    }
});
</script>
</body>
</html>
